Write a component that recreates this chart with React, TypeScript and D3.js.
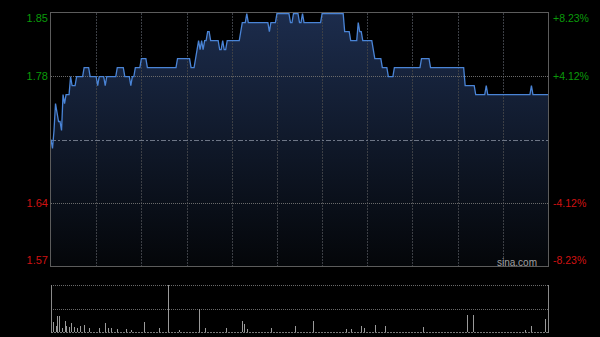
import React from "react";
import * as d3 from "d3";

// Previous close and symmetric percent range of the chart
const prevClose = 1.71;
const maxPct = 8.23;
const midPct = 4.12;

// Minute-by-minute prices, 09:30 → 12:00 then 13:00 → 16:00 (331 points)
const prices: number[] = [
  1.71, 1.70, 1.72, 1.75, 1.74, 1.73, 1.73, 1.72, 1.76, 1.75,
  1.76, 1.76, 1.76, 1.78, 1.77, 1.77, 1.77, 1.78, 1.78, 1.78,
  1.78, 1.78, 1.79, 1.79, 1.79, 1.79, 1.78, 1.78, 1.78, 1.78,
  1.78, 1.77, 1.78, 1.78, 1.78, 1.78, 1.77, 1.78, 1.78, 1.78,
  1.78, 1.78, 1.78, 1.78, 1.79, 1.79, 1.79, 1.79, 1.79, 1.78,
  1.78, 1.78, 1.78, 1.77, 1.78, 1.78, 1.79, 1.79, 1.79, 1.79,
  1.80, 1.80, 1.80, 1.80, 1.79, 1.79, 1.79, 1.79, 1.79, 1.79,
  1.79, 1.79, 1.79, 1.79, 1.79, 1.79, 1.79, 1.79, 1.79, 1.79,
  1.79, 1.79, 1.79, 1.79, 1.80, 1.80, 1.80, 1.80, 1.80, 1.80,
  1.80, 1.80, 1.80, 1.79, 1.79, 1.79, 1.80, 1.81, 1.82, 1.81,
  1.82, 1.81, 1.82, 1.82, 1.83, 1.83, 1.82, 1.82, 1.82, 1.82,
  1.82, 1.82, 1.81, 1.81, 1.82, 1.81, 1.81, 1.82, 1.82, 1.82,
  1.82, 1.82, 1.82, 1.82, 1.82, 1.82, 1.83, 1.84, 1.84, 1.84,
  1.85, 1.84, 1.84, 1.84, 1.84, 1.84, 1.84, 1.84, 1.84, 1.84,
  1.84, 1.84, 1.84, 1.84, 1.84, 1.83, 1.84, 1.84, 1.84, 1.84,
  1.85, 1.85, 1.85, 1.85, 1.85, 1.85, 1.85, 1.85, 1.85, 1.84,
  1.84, 1.85, 1.85, 1.85, 1.85, 1.84, 1.84, 1.85, 1.84, 1.84,
  1.84, 1.84, 1.84, 1.84, 1.84, 1.84, 1.84, 1.84, 1.84, 1.84,
  1.85, 1.85, 1.85, 1.85, 1.85, 1.85, 1.85, 1.85, 1.85, 1.85,
  1.85, 1.85, 1.85, 1.85, 1.85, 1.83, 1.83, 1.83, 1.83, 1.82,
  1.82, 1.82, 1.82, 1.82, 1.84, 1.83, 1.83, 1.82, 1.82, 1.82,
  1.82, 1.82, 1.82, 1.82, 1.81, 1.80, 1.80, 1.80, 1.80, 1.80,
  1.79, 1.79, 1.79, 1.79, 1.78, 1.78, 1.78, 1.78, 1.79, 1.79,
  1.79, 1.79, 1.79, 1.79, 1.79, 1.79, 1.79, 1.79, 1.79, 1.79,
  1.79, 1.79, 1.79, 1.79, 1.79, 1.79, 1.80, 1.80, 1.80, 1.80,
  1.80, 1.80, 1.79, 1.79, 1.79, 1.79, 1.79, 1.79, 1.79, 1.79,
  1.79, 1.79, 1.79, 1.79, 1.79, 1.79, 1.79, 1.79, 1.79, 1.79,
  1.79, 1.79, 1.79, 1.79, 1.79, 1.77, 1.77, 1.77, 1.77, 1.77,
  1.77, 1.77, 1.76, 1.76, 1.76, 1.76, 1.76, 1.76, 1.76, 1.77,
  1.76, 1.76, 1.76, 1.76, 1.76, 1.76, 1.76, 1.76, 1.76, 1.76,
  1.76, 1.76, 1.76, 1.76, 1.76, 1.76, 1.76, 1.76, 1.76, 1.76,
  1.76, 1.76, 1.76, 1.76, 1.76, 1.76, 1.76, 1.76, 1.76, 1.77,
  1.76, 1.76, 1.76, 1.76, 1.76, 1.76, 1.76, 1.76, 1.76, 1.76,
  1.76,
];

// Notable minute volumes (minute index from open, volume in thousands)
const volMinutes: number[] = [
  1, 3, 4, 5, 7, 9, 10, 12, 13, 15, 17, 19, 22, 25, 32, 36, 38, 40, 44, 50,
  53, 62, 72, 78, 85, 98, 102, 116, 127, 128, 130, 146, 162, 174, 196, 199,
  206, 208, 215, 222, 247, 276, 280, 315, 319, 328, 330,
];
const volValues: number[] = [
  200, 120, 320, 320, 80, 220, 120, 100, 180, 100, 80, 120, 140, 80, 80, 180, 80, 80, 60, 60,
  40, 200, 80, 1200, 40, 460, 80, 80, 220, 160, 60, 80, 120, 220, 60, 60,
  120, 80, 140, 120, 100, 340, 340, 40, 120, 260, 1200,
];
const volMax = 940;

const leftLabels = ["1.85", "1.78", "1.64", "1.57"];
const rightLabels = ["+8.23%", "+4.12%", "-4.12%", "-8.23%"];
const labelPcts = [maxPct, midPct, -midPct, -maxPct];

const W = 600;
const H = 337;
const L = 51;
const R = 548;
const T = 13;
const B = 266;
const VT = 285;
const VB = 332;
const FONT = "'Liberation Sans', Arial, sans-serif";

export default function App() {
  const x = d3.scaleLinear().domain([0, 330]).range([L, R]);
  const y = d3
    .scaleLinear()
    .domain([prevClose * (1 - maxPct / 100), prevClose * (1 + maxPct / 100)])
    .range([B, T]);
  const yv = d3.scaleLinear().domain([0, volMax]).range([VB, VT]).clamp(true);

  const line = d3
    .line<number>()
    .x((_, i) => x(i))
    .y((d) => y(d));
  const area = d3
    .area<number>()
    .x((_, i) => x(i))
    .y0(B)
    .y1((d) => y(d));

  const vTicks = d3.range(30, 330, 30);
  const labelY = (p: number, i: number) => {
    const yy = y(prevClose * (1 + p / 100));
    if (i === 0) return yy + 5;
    if (i === labelPcts.length - 1) return yy - 6;
    return yy;
  };

  return (
    <svg
      width={W}
      height={H}
      style={{ position: "fixed", left: 0, top: 0, background: "#000" }}
    >
      <defs>
        <linearGradient id="fillGrad" x1="0" y1="0" x2="0" y2="1">
          <stop offset="0%" stopColor="#1c2c4c" />
          <stop offset="100%" stopColor="#040609" />
        </linearGradient>
      </defs>
      <rect x={0} y={0} width={W} height={H} fill="#000" />

      {/* price area */}
      <path d={area(prices) || ""} fill="url(#fillGrad)" />

      {/* vertical grid */}
      {vTicks.map((t) => (
        <line
          key={t}
          x1={Math.round(x(t)) + 0.5}
          x2={Math.round(x(t)) + 0.5}
          y1={T}
          y2={B}
          stroke="#3c3f45"
          strokeDasharray="2,1"
        />
      ))}
      {/* horizontal grid at ±midPct */}
      {[midPct, -midPct].map((p) => (
        <line
          key={p}
          x1={L}
          x2={R}
          y1={Math.round(y(prevClose * (1 + p / 100))) + 0.5}
          y2={Math.round(y(prevClose * (1 + p / 100))) + 0.5}
          stroke="#6a6a6a"
          strokeDasharray="1,1"
        />
      ))}
      {/* prev close line */}
      <line
        x1={L}
        x2={R}
        y1={Math.round(y(prevClose)) + 0.5}
        y2={Math.round(y(prevClose)) + 0.5}
        stroke="#6e7686"
        strokeDasharray="5,2,2,2"
      />

      {/* price line */}
      <path d={line(prices) || ""} fill="none" stroke="#4a84d6" strokeWidth={1.3} />

      {/* main border */}
      <rect x={L - 0.5} y={T - 0.5} width={R - L + 1} height={B - T + 1} fill="none" stroke="#5c5c5c" />

      {/* labels */}
      {leftLabels.map((s, i) => (
        <text
          key={s}
          x={48}
          y={labelY(labelPcts[i], i)}
          textAnchor="end"
          dominantBaseline="central"
          fontFamily={FONT}
          fontSize={11}
          fill={labelPcts[i] > 0 ? "#0a9a0a" : "#d01212"}
        >
          {s}
        </text>
      ))}
      {rightLabels.map((s, i) => (
        <text
          key={s}
          x={553}
          y={labelY(labelPcts[i], i)}
          textAnchor="start"
          dominantBaseline="central"
          fontFamily={FONT}
          fontSize={10.5}
          fill={labelPcts[i] > 0 ? "#0a9a0a" : "#d01212"}
        >
          {s}
        </text>
      ))}
      <text
        x={537}
        y={262}
        textAnchor="end"
        dominantBaseline="central"
        fontFamily={FONT}
        fontSize={10}
        fill="#a0a0a0"
      >
        sina.com
      </text>

      {/* volume panel */}
      <line x1={L} x2={R} y1={VT + 0.5} y2={VT + 0.5} stroke="#6a6a6a" strokeDasharray="1,1" />
      <line
        x1={L}
        x2={R}
        y1={Math.round(yv(volMax / 2)) + 0.5}
        y2={Math.round(yv(volMax / 2)) + 0.5}
        stroke="#6a6a6a"
        strokeDasharray="1,1"
      />
      <line x1={L} x2={R} y1={VB + 0.5} y2={VB + 0.5} stroke="#777" strokeDasharray="2,1" />
      {volMinutes.map((m, i) => (
        <line
          key={m}
          x1={Math.round(x(m)) + 0.5}
          x2={Math.round(x(m)) + 0.5}
          y1={VB}
          y2={yv(volValues[i])}
          stroke="#9a9a9a"
        />
      ))}
      <line x1={L + 0.5} x2={L + 0.5} y1={VT} y2={VB + 1} stroke="#8a8a8a" />
      <line x1={R + 0.5} x2={R + 0.5} y1={VT} y2={VB + 1} stroke="#8a8a8a" />
    </svg>
  );
}
